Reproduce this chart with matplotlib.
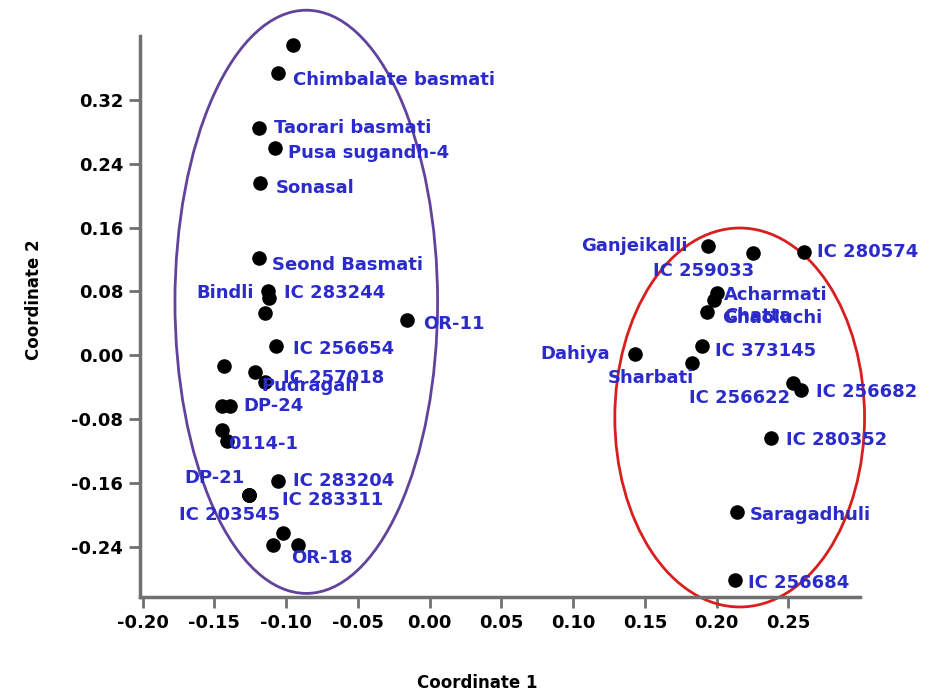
import matplotlib
matplotlib.use("Agg")
import matplotlib.pyplot as plt
from matplotlib.patches import Ellipse

# genotype coordinates
names = ['', 'Chimbalate basmati', 'Taorari basmati', 'Pusa sugandh-4', 'Sonasal',
         'Seond Basmati', 'Bindli', 'IC 283244', '', 'OR-11', 'IC 256654', '',
         'Pudragali', 'IC 257018', '', 'DP-24', '', '0114-1', 'IC 283204',
         'DP-21', 'IC 203545', 'IC 283311', '', '', 'OR-18',
         'Ganjeikalli', 'IC 259033', 'IC 280574', 'Acharmati', 'Chatta', 'Ghaoluchi',
         'IC 373145', 'Sharbati', 'Dahiya', 'IC 256622', 'IC 256682', 'IC 280352',
         'Saragadhuli', 'IC 256684']
coord1 = [-0.095, -0.106, -0.119, -0.108, -0.118,
          -0.119, -0.113, -0.112, -0.115, -0.016, -0.107, -0.143,
          -0.122, -0.115, -0.145, -0.139, -0.145, -0.141, -0.106,
          -0.126, -0.126, -0.126, -0.102, -0.109, -0.092,
          0.194, 0.225, 0.261, 0.200, 0.198, 0.193,
          0.190, 0.183, 0.143, 0.253, 0.259, 0.238,
          0.214, 0.213]
coord2 = [0.389, 0.354, 0.285, 0.260, 0.216,
          0.122, 0.081, 0.072, 0.053, 0.044, 0.011, -0.014,
          -0.021, -0.033, -0.063, -0.063, -0.094, -0.108, -0.158,
          -0.175, -0.175, -0.175, -0.223, -0.238, -0.238,
          0.137, 0.128, 0.129, 0.078, 0.069, 0.054,
          0.011, -0.010, 0.002, -0.035, -0.043, -0.104,
          -0.196, -0.282]

x_ticks = [-0.20, -0.15, -0.10, -0.05, 0.00, 0.05, 0.10, 0.15, 0.20, 0.25]
y_ticks = [-0.24, -0.16, -0.08, 0.00, 0.08, 0.16, 0.24, 0.32]

# label placement (pixel offsets, y down) - layout only
label_pos = {
    'Chimbalate basmati': (15, 7, 'left'), 'Taorari basmati': (15, 0, 'left'),
    'Pusa sugandh-4': (13, 5, 'left'), 'Sonasal': (15, 5, 'left'),
    'Seond Basmati': (13, 7, 'left'), 'Bindli': (-14, 2, 'right'),
    'IC 283244': (15, -5, 'left'), 'OR-11': (16, 4, 'left'),
    'IC 256654': (17, 3, 'left'), 'Pudragali': (7, 14, 'left'),
    'IC 257018': (18, -4, 'left'), 'DP-24': (13, 0, 'left'),
    '0114-1': (1, 3, 'left'), 'IC 283204': (15, 0, 'left'),
    'DP-21': (-4, -17, 'right'), 'IC 203545': (31, 20, 'right'),
    'IC 283311': (33, 5, 'left'), 'OR-18': (-7, 13, 'left'),
    'Ganjeikalli': (-20, 0, 'right'), 'IC 259033': (2, 18, 'right'),
    'IC 280574': (13, 0, 'left'), 'Acharmati': (7, 2, 'left'),
    'Chatta': (10, 16, 'left'), 'Ghaoluchi': (15, 6, 'left'),
    'IC 373145': (13, 5, 'left'), 'Sharbati': (2, 15, 'right'),
    'Dahiya': (-25, 0, 'right'), 'IC 256622': (-3, 15, 'right'),
    'IC 256682': (15, 2, 'left'), 'IC 280352': (15, 2, 'left'),
    'Saragadhuli': (13, 3, 'left'), 'IC 256684': (13, 3, 'left'),
}

fig = plt.figure(figsize=(9.32, 6.95), dpi=100)
ax = fig.add_axes([0.150, 0.141, 0.773, 0.807])

ax.scatter(coord1, coord2, s=110, color='black', zorder=3, linewidths=0)

for name, x, y in zip(names, coord1, coord2):
    if not name:
        continue
    dx, dy, ha = label_pos[name]
    ax.annotate(name, (x, y), xytext=(dx, -dy), textcoords='offset pixels',
                ha=ha, va='center', color='#2b2bcc', fontsize=13,
                fontweight='bold', zorder=4)

# cluster ellipses
ax.add_patch(Ellipse((-0.086, 0.067), 0.183, 0.731, fill=False,
                     edgecolor='#62439c', linewidth=2, clip_on=False, zorder=2))
ax.add_patch(Ellipse((0.216, -0.078), 0.174, 0.475, fill=False,
                     edgecolor='#d91e1e', linewidth=2, clip_on=False, zorder=2))

ax.set_xlim(-0.202, 0.30)
ax.set_ylim(-0.303, 0.40)
ax.set_xticks(x_ticks)
ax.set_yticks(y_ticks)
ax.set_xticklabels([f'{v:.2f}' for v in x_ticks])
ax.set_yticklabels([f'{v:.2f}' for v in y_ticks])

for side in ['top', 'right']:
    ax.spines[side].set_visible(False)
for side in ['left', 'bottom']:
    ax.spines[side].set_color('#707070')
    ax.spines[side].set_linewidth(2.5)
ax.tick_params(direction='out', length=8, width=2, color='#707070',
               labelsize=13, pad=4)
for lbl in ax.get_xticklabels() + ax.get_yticklabels():
    lbl.set_fontweight('bold')

ax.set_xlabel('Coordinate 1', fontsize=12, fontweight='bold')
ax.set_ylabel('Coordinate 2', fontsize=12, fontweight='bold')
ax.xaxis.set_label_coords(0.469, -0.138)
ax.yaxis.set_label_coords(-0.135, 0.53)

fig.savefig('out.png', dpi=100)
